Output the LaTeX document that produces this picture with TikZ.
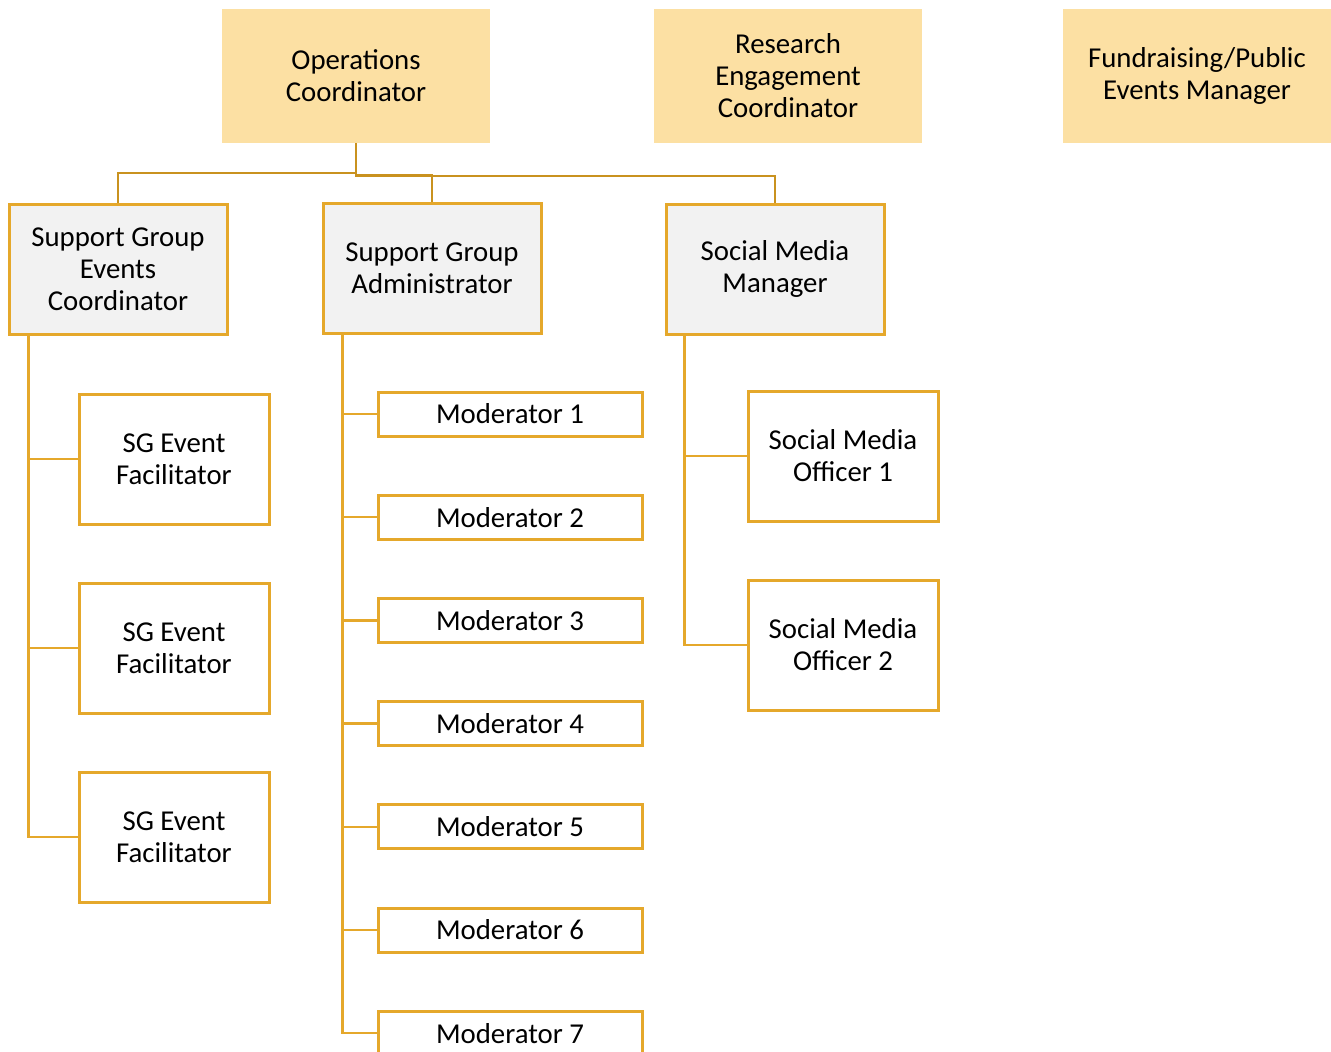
\documentclass[tikz,border=0pt]{standalone}
\usepackage{fontspec}
\setmainfont{Carlito}

\definecolor{headfill}{HTML}{FCE0A3}
\definecolor{boxline}{HTML}{E5A82B}
\definecolor{linkline}{HTML}{C9921F}
\definecolor{mgrfill}{HTML}{F2F2F2}

\tikzset{
  lead/.style={fill=headfill, minimum width=268pt, minimum height=134pt},
  mgr/.style={draw=boxline, fill=mgrfill, line width=3pt, minimum width=218pt, minimum height=130pt},
  staff/.style={draw=boxline, fill=white, line width=3pt, minimum width=190pt, minimum height=130pt},
  modbox/.style={draw=boxline, fill=white, line width=3pt, minimum width=264pt, minimum height=44pt},
  link/.style={draw=linkline, line width=2.5pt},
  sublink/.style={draw=boxline, line width=2.5pt}
}

\begin{document}
\begin{tikzpicture}[x=1pt, y=-1pt, every node/.style={align=center, inner sep=0pt, font=\fontsize{28.8}{32}\selectfont}]
    \useasboundingbox (0,0) rectangle (1331,1052);

    % Top row
    \node[lead] (ops) at (356,76) {Operations\\Coordinator};
    \node[lead] (research) at (788,76) {Research\\Engagement\\Coordinator};
    \node[lead] (fundraising) at (1197,76) {Fundraising/Public\\Events Manager};

    % Managers under operations
    \node[mgr] (sgec) at (118,269) {Support Group\\Events\\Coordinator};
    \node[mgr] (sga) at (432,268) {Support Group\\Administrator};
    \node[mgr] (smm) at (775,269) {Social Media\\Manager};

    \draw[link] (ops.south) -- ++(0,30) -| (sgec.north);
    \draw[link] (ops.south) -- ++(0,32) -| (sga.north);
    \draw[link] (ops.south) -- ++(0,33) -| (smm.north);

    % Event facilitators
    \foreach \i/\y in {1/459, 2/648, 3/837} {
        \node[staff] (fac\i) at (174,\y) {SG Event\\Facilitator};
        \draw[sublink] ([xshift=21pt]sgec.south west) |- (fac\i.west);
    }

    % Moderators
    \foreach \i in {1,...,7} {
        \pgfmathsetmacro{\y}{414+(\i-1)*103.2}
        \node[modbox] (mod\i) at (510,\y) {Moderator \i};
        \draw[sublink] ([xshift=21pt]sga.south west) |- (mod\i.west);
    }

    % Social media officers
    \foreach \i/\y in {1/456, 2/645} {
        \node[staff] (smo\i) at (843,\y) {Social Media\\Officer \i};
        \draw[sublink] ([xshift=20pt]smm.south west) |- (smo\i.west);
    }
\end{tikzpicture}
\end{document}
